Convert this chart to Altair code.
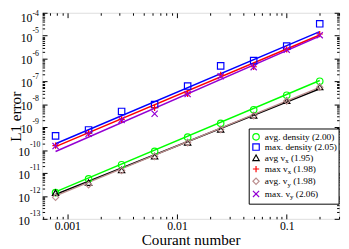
import altair as alt
import pandas as pd

# ---------------- data ----------------
courant = [0.00078125, 0.0015625, 0.003125, 0.00625, 0.0125, 0.025, 0.05, 0.1, 0.2]

avg_density = [1.4e-12, 5.6e-12, 2.3e-11, 8.9e-11, 3.7e-10, 1.48e-9, 5.8e-9, 2.5e-8, 1.02e-7]
max_density = [4.2e-10, 7.6e-10, 4.9e-9, 9.8e-9, 6.3e-8, 4.8e-7, 8.1e-7, 3.5e-6, 3.3e-5]
avg_vx = [1.4e-12, 3.8e-12, 1.38e-11, 5.5e-11, 2.2e-10, 8.1e-10, 3.3e-9, 1.45e-8, 5.8e-8]
max_vx = [1.58e-10, 5.5e-10, 2.2e-9, 7.1e-9, 2.9e-8, 1.95e-7, 4.4e-7, 2.5e-6, 1.18e-5]
avg_vy = [8.7e-13, 3.1e-12, 1.3e-11, 5.3e-11, 2.1e-10, 7.9e-10, 3.2e-9, 1.4e-8, 5.6e-8]
max_vy = [1.5e-10, 5.2e-10, 2.1e-9, 3.9e-9, 2.8e-8, 1.7e-7, 4.2e-7, 2.4e-6, 1.05e-5]

fit_x = [0.00078125, 0.2]
fit_avg_density = [1.5e-12, 1.1e-7]
fit_max_density = [1.9e-10, 1.5e-5]
fit_avg_vx = [1.15e-12, 4.8e-8]
fit_max_vx = [1.43e-10, 1.07e-5]
fit_avg_vy = [1.0e-12, 5.5e-8]
fit_max_vy = [8.7e-11, 9.5e-6]

series_keys = ["avg_density", "max_density", "avg_vx", "max_vx", "avg_vy", "max_vy"]
legend_pre = ["avg. density (2.00)", "max. density (2.05)", "avg v", "max v", "avg. v", "max. v"]
legend_sub = ["", "", "x", "x", "y", "y"]
legend_post = ["", "", "(1.95)", "(1.98)", "(1.98)", "(2.06)"]

x_tick_labels = [0.001, 0.01, 0.1]
y_exponents = [-4, -5, -6, -7, -8, -9, -10, -11, -12, -13]

x_title = "Courant number"
y_title = "L1 error"

# ---------------- styles ----------------
colors = ["#00ff00", "#0000ff", "#000000", "#ff0000", "#bc8f8f", "#9400d3"]
shapes = ["circle", "square", "triangle-up", "M-1,0L1,0M0,-1L0,1", "diamond",
          "M-1,-1L1,1M-1,1L1,-1"]
sizes = [44, 40, 44, 49, 52, 26]
FONT = "Liberation Serif"

W, H = 304, 211

# ---------------- tables ----------------
pt_vals = [avg_density, max_density, avg_vx, max_vx, avg_vy, max_vy]
fit_vals = [fit_avg_density, fit_max_density, fit_avg_vx, fit_max_vx, fit_avg_vy, fit_max_vy]
pts = pd.DataFrame([
    {"series": k, "x": c, "y": v}
    for k, vals in zip(series_keys, pt_vals) for c, v in zip(courant, vals)
])
fits = pd.DataFrame([
    {"series": k, "x": c, "y": v}
    for k, vals in zip(series_keys, fit_vals) for c, v in zip(fit_x, vals)
])

xs = alt.Scale(type="log", domain=[5.9e-4, 0.3], nice=False)
ys = alt.Scale(type="log", domain=[1e-13, 1e-4], nice=False)
color_sc = alt.Scale(domain=series_keys, range=colors)
shape_sc = alt.Scale(domain=series_keys, range=shapes)
size_sc = alt.Scale(domain=series_keys, range=sizes)

x_major = x_tick_labels
x_minor = [m * 1e-4 for m in (6, 7, 8, 9)] + [m * 10.0 ** e for e in (-3, -2) for m in range(2, 10)] + [0.2, 0.3]
y_major = [10.0 ** e for e in range(-13, -3)]
y_minor = [m * 10.0 ** e for e in range(-13, -4) for m in range(2, 10)]


def ax(orient, values, size, offset=0):
    return alt.Axis(orient=orient, values=values, tickSize=size, offset=offset,
                    labels=False, domain=False, grid=False, title=None,
                    tickColor="black", tickWidth=1)


color_enc = alt.Color("series:N", scale=color_sc, legend=None)

lines = alt.Chart(fits).mark_line(strokeWidth=1.5).encode(
    x=alt.X("x:Q", scale=xs, axis=ax("top", x_major, 5, -H)),
    y=alt.Y("y:Q", scale=ys, axis=ax("right", y_major, 5, -W)),
    color=color_enc,
)

points = alt.Chart(pts).mark_point(filled=False, strokeWidth=1.2, opacity=1).encode(
    x=alt.X("x:Q", scale=xs, axis=ax("top", x_minor, 2.5, -H)),
    y=alt.Y("y:Q", scale=ys, axis=ax("right", y_minor, 2.5, -W)),
    color=color_enc,
    shape=alt.Shape("series:N", scale=shape_sc, legend=None),
    size=alt.Size("series:N", scale=size_sc, legend=None),
)

dummy_major = alt.Chart(pts).mark_point(opacity=0).encode(
    x=alt.X("x:Q", scale=xs, axis=ax("bottom", x_major, 5, -H)),
    y=alt.Y("y:Q", scale=ys, axis=ax("left", y_major, 5, -W)),
)
dummy_minor = alt.Chart(pts).mark_point(opacity=0).encode(
    x=alt.X("x:Q", scale=xs, axis=ax("bottom", x_minor, 2.5, -H)),
    y=alt.Y("y:Q", scale=ys, axis=ax("left", y_minor, 2.5, -W)),
)
dummy_labels = alt.Chart(pts).mark_point(opacity=0).encode(
    x=alt.X("x:Q", scale=xs, axis=alt.Axis(
        orient="bottom", values=x_tick_labels, format="~g", ticks=False, tickSize=0,
        domain=False, grid=False, labelFont=FONT, labelFontSize=12, labelColor="black",
        labelPadding=2, labelBaseline="top", title=x_title, titleFont=FONT,
        titleFontSize=15.5, titleFontWeight="normal", titleColor="black",
        titleBaseline="middle", titleY=21.5)),
    y=alt.Y("y:Q", scale=ys, axis=alt.Axis(
        orient="left", labels=False, ticks=False, domain=False, grid=False,
        title=y_title, titleFont=FONT, titleFontSize=15.5, titleFontWeight="normal",
        titleColor="black", titleBaseline="middle", titleX=-27, titleY=106)),
)

# y tick labels: "10" with a raised exponent
ylab = pd.DataFrame({"e": y_exponents})
ylab["v"] = 10.0 ** ylab["e"]
ylab["exp"] = ylab["e"].astype(str)
top = ylab[ylab["e"] == -4]
one = ylab[(ylab["e"] > -10) & (ylab["e"] < -4)]
two = ylab[ylab["e"] <= -10]


def ylabels(df, x10, xexp, dy10=2, dyexp=-5):
    base = alt.Chart(df).mark_text(font=FONT, fontSize=12, align="right",
                                   baseline="middle", dy=dy10, color="black").encode(
        x=alt.value(x10), y=alt.Y("v:Q", scale=ys, axis=None), text="base:N"
    ).transform_calculate(base="'10'")
    sup = alt.Chart(df).mark_text(font=FONT, fontSize=8, align="left",
                                  baseline="middle", dy=dyexp, color="black").encode(
        x=alt.value(xexp), y=alt.Y("v:Q", scale=ys, axis=None), text="exp:N"
    )
    return [base, sup]


# legend
LX0, LX1, LY0, LY1 = 212, W, 119, 196
LEGEND_ROW_Y = [127, 137.5, 148.5, 160, 172.5, 185.5]
SYM_X, TXT_X, FS, FS_SUB = 219, 228, 9.5, 7
TW = {'a': .444, 'v': .5, 'g': .5, ' ': .25, 'm': .778, 'x': .5, '.': .25, 'y': .5,
      'd': .5, 'e': .444, 'n': .5, 's': .389, 'i': .278, 't': .278, '(': .333, ')': .333}


def tw(s, fs):
    return sum(TW.get(ch, .5) for ch in s) * fs


leg = pd.DataFrame({"series": series_keys, "pre": legend_pre, "sub": legend_sub,
                    "post": legend_post, "ly": LEGEND_ROW_Y})
leg["sx"] = SYM_X
leg["tx"] = TXT_X
leg["subx"] = [TXT_X + tw(p, FS) for p in legend_pre]
leg["postx"] = [sx + tw(s, FS_SUB) + tw(" ", FS) for sx, s in zip(leg["subx"], legend_sub)]
leg["suby"] = leg["ly"] + 3.5
legs = leg[leg["sub"] != ""]

box = alt.Chart(leg).mark_rect(fill="white", stroke="black", strokeWidth=1).encode(
    x=alt.value(LX0), x2=alt.value(LX1), y=alt.value(LY0), y2=alt.value(LY1)
).transform_filter("datum.series == 'avg_density'")

leg_sym = alt.Chart(leg).mark_point(filled=False, strokeWidth=1.2, opacity=1).encode(
    x=alt.X("sx:Q", scale=None, axis=None), y=alt.Y("ly:Q", scale=None, axis=None),
    color=color_enc,
    shape=alt.Shape("series:N", scale=shape_sc, legend=None),
    size=alt.Size("series:N", scale=size_sc, legend=None),
)
leg_pre = alt.Chart(leg).mark_text(font=FONT, fontSize=FS, align="left", baseline="middle",
                                   color="black").encode(
    x=alt.X("tx:Q", scale=None, axis=None), y=alt.Y("ly:Q", scale=None, axis=None), text="pre:N")
leg_sub = alt.Chart(legs).mark_text(font=FONT, fontSize=FS_SUB, align="left", baseline="middle",
                                    color="black").encode(
    x=alt.X("subx:Q", scale=None, axis=None), y=alt.Y("suby:Q", scale=None, axis=None), text="sub:N")
leg_post = alt.Chart(legs).mark_text(font=FONT, fontSize=FS, align="left", baseline="middle",
                                     color="black").encode(
    x=alt.X("postx:Q", scale=None, axis=None), y=alt.Y("ly:Q", scale=None, axis=None), text="post:N")

layers = [lines, points, dummy_major, dummy_minor, dummy_labels]
layers += ylabels(top, -10, -10, dy10=5, dyexp=1.5)
layers += ylabels(one, -10, -10) + ylabels(two, -12.5, -12.5)
layers += [box, leg_sym, leg_pre, leg_sub, leg_post]

chart = alt.layer(*layers).resolve_scale(
    x="shared", y="shared"
).resolve_axis(
    x="independent", y="independent"
).properties(
    width=W, height=H,
    autosize=alt.AutoSizeParams(type="none"),
    padding={"left": 35, "top": 2, "right": 2, "bottom": 28},
).configure_view(stroke="black", strokeWidth=1.2).configure(background="white")

chart.save("out.html", embed_options={"renderer": "svg", "actions": False})
